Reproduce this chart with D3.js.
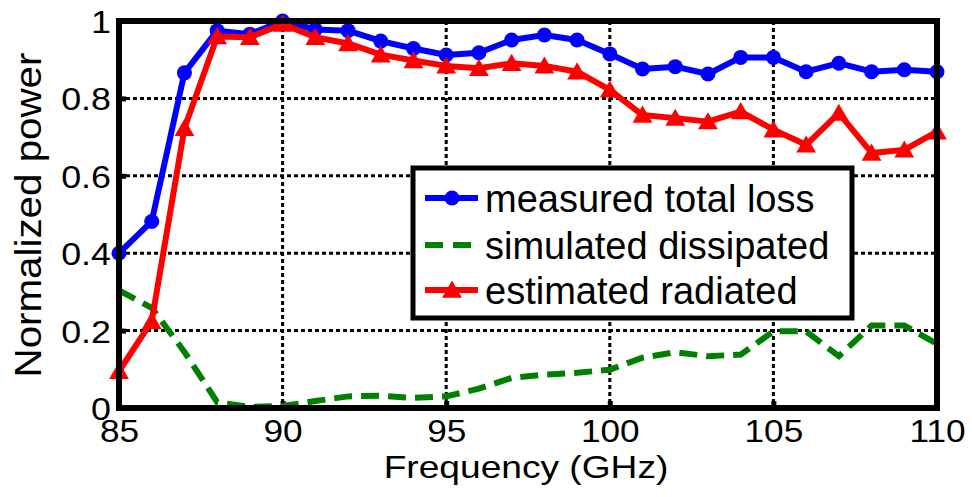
<!DOCTYPE html>
<html>
<head>
<meta charset="utf-8">
<script src="https://cdn.jsdelivr.net/npm/d3@7"></script>
<style>
body{margin:0;background:#fff;}
text{font-family:"Liberation Sans",Arial,sans-serif;fill:#000;}
</style>
</head>
<body>
<div class="chart"></div>
<script>
const freq = d3.range(85, 111);
const measured = [0.40,0.482,0.866,0.975,0.966,1.0,0.978,0.975,0.948,0.929,0.912,0.918,0.951,0.964,0.951,0.915,0.876,0.882,0.863,0.906,0.906,0.869,0.891,0.869,0.874,0.869];
const dissipated = [0.304,0.259,0.145,0.015,0.003,0.005,0.018,0.030,0.032,0.026,0.030,0.050,0.078,0.086,0.091,0.099,0.130,0.144,0.134,0.138,0.198,0.198,0.134,0.213,0.213,0.166];
const radiated = [0.095,0.224,0.723,0.96,0.958,0.992,0.958,0.942,0.913,0.898,0.884,0.878,0.891,0.884,0.869,0.822,0.757,0.749,0.740,0.766,0.719,0.680,0.762,0.659,0.667,0.714];
const xTicks = [85,90,95,100,105,110];
const yTicks = [0,0.2,0.4,0.6,0.8,1];
const legendLabels = ["measured total loss","simulated dissipated","estimated radiated"];

const W = 973, H = 497;
const margin = {left:119, right:36, top:21, bottom:89};
const width = W - margin.left - margin.right;
const height = H - margin.top - margin.bottom;

const svg = d3.select(".chart").append("svg")
  .attr("width", W).attr("height", H);
const g = svg.append("g").attr("transform", `translate(${margin.left},${margin.top})`);

const x = d3.scaleLinear().domain([85,110]).range([0,width]);
const y = d3.scaleLinear().domain([0,1]).range([height,0]);

// the original font is a bit wider than Liberation Sans
function stretch(sel, k){
  sel.each(function(){
    const len = this.getComputedTextLength();
    d3.select(this).attr("textLength", len*k).attr("lengthAdjust","spacingAndGlyphs");
  });
}

// grid
g.selectAll(".gx").data(xTicks.slice(1,-1)).enter().append("line")
  .attr("x1", d=>x(d)).attr("x2", d=>x(d)).attr("y1", 0).attr("y2", height)
  .attr("stroke","#000").attr("stroke-width",3).attr("stroke-dasharray","4,3");
g.selectAll(".gy").data(yTicks.slice(1,-1)).enter().append("line")
  .attr("x1", 0).attr("x2", width).attr("y1", d=>y(d)).attr("y2", d=>y(d))
  .attr("stroke","#000").attr("stroke-width",3).attr("stroke-dasharray","4,3");

// axes
const xAxis = d3.axisBottom(x).tickValues(xTicks).tickSize(-7).tickFormat(d3.format("d"));
const yAxis = d3.axisLeft(y).tickValues(yTicks).tickSize(-7).tickFormat(d=>d===0?"0":d===1?"1":d3.format(".1f")(d));
const gx = g.append("g").attr("transform", `translate(0,${height})`).call(xAxis);
const gy = g.append("g").call(yAxis);
[gx,gy].forEach(a=>{
  a.select(".domain").remove();
  a.selectAll(".tick line").attr("stroke","#000").attr("stroke-width",5);
  a.selectAll("text").attr("font-size",32).attr("font-family","Liberation Sans, Arial, sans-serif").attr("fill","#000");
});
gx.selectAll("text").attr("y",34).attr("dy",0);
gy.selectAll("text").attr("x",-8).attr("dy","0.36em");
stretch(gx.selectAll("text"),1.1);
stretch(gy.selectAll("text"),1.12);

// lines
const line = arr => d3.line().x((d,i)=>x(freq[i])).y(d=>y(d))(arr);
g.append("path").attr("d", line(measured)).attr("fill","none").attr("stroke","#0000ff").attr("stroke-width",6).attr("stroke-linejoin","round");
g.selectAll(".dot").data(measured).enter().append("circle")
  .attr("cx",(d,i)=>x(freq[i])).attr("cy",d=>y(d)).attr("r",7.5).attr("fill","#0000ff");
g.append("path").attr("d", line(dissipated)).attr("fill","none").attr("stroke","#008000").attr("stroke-width",6).attr("stroke-dasharray","18,9");
g.append("path").attr("d", line(radiated)).attr("fill","none").attr("stroke","#ff0000").attr("stroke-width",6).attr("stroke-linejoin","round");
const tri = d3.symbol().type(d3.symbolTriangle).size(170);
g.selectAll(".tri").data(radiated).enter().append("path")
  .attr("d", tri).attr("transform",(d,i)=>`translate(${x(freq[i])},${y(d)+2})`).attr("fill","#ff0000");

// frame
g.append("rect").attr("x",0).attr("y",0).attr("width",width).attr("height",height)
  .attr("fill","none").attr("stroke","#000").attr("stroke-width",6);

// legend
const lg = svg.append("g").attr("transform","translate(413,168)");
lg.append("rect").attr("width",439).attr("height",150).attr("fill","#fff").attr("stroke","#000").attr("stroke-width",5);
const rows = [30,77,122];
lg.append("line").attr("x1",12).attr("x2",65).attr("y1",rows[0]).attr("y2",rows[0]).attr("stroke","#0000ff").attr("stroke-width",6);
lg.append("circle").attr("cx",39).attr("cy",rows[0]).attr("r",7.5).attr("fill","#0000ff");
lg.append("line").attr("x1",12).attr("x2",65).attr("y1",rows[1]).attr("y2",rows[1]).attr("stroke","#008000").attr("stroke-width",6).attr("stroke-dasharray","18,10");
lg.append("line").attr("x1",12).attr("x2",65).attr("y1",rows[2]).attr("y2",rows[2]).attr("stroke","#ff0000").attr("stroke-width",6);
lg.append("path").attr("d",tri).attr("transform",`translate(39,${rows[2]+2})`).attr("fill","#ff0000");
lg.selectAll(".lt").data(legendLabels).enter().append("text")
  .attr("x",72).attr("y",(d,i)=>rows[i]).attr("dy","0.36em")
  .style("font-size","38px").text(d=>d);

// labels
const xl = svg.append("text").attr("x", 526).attr("y", 478)
  .attr("text-anchor","middle").style("font-size","32px").text("Frequency (GHz)");
stretch(xl,1.16);
const yl = svg.append("text").attr("transform","translate(41,215) rotate(-90)")
  .attr("text-anchor","middle").style("font-size","36px").text("Normalized power");
stretch(yl,1.12);
</script>
</body>
</html>
